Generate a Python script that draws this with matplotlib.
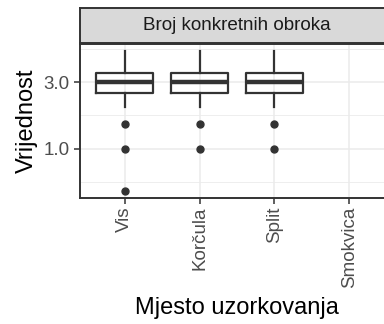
import numpy as np
import matplotlib
matplotlib.use('Agg')
import matplotlib.pyplot as plt
from matplotlib.patches import Rectangle

plt.rcParams['font.family'] = ['Liberation Sans', 'DejaVu Sans']

# boxplot summaries per sampling site (Smokvica has no data)
sites = ['Vis', 'Korčula', 'Split', 'Smokvica']
q1 = [2.5, 2.5, 2.5]
med = [3.0, 3.0, 3.0]
q3 = [3.5, 3.5, 3.5]
whis_lo = [2.0, 2.0, 2.0]
whis_hi = [5.0, 5.0, 5.0]
outliers = [[1.5, 1.0, 0.5], [1.5, 1.0], [1.5, 1.0]]
y_ticks = [1.0, 3.0]
y_tick_labels = ['1.0', '3.0']
facet_title = 'Broj konkretnih obroka'

dark = '#333333'
fig = plt.figure(figsize=(3.84, 3.24), dpi=100)
ax = fig.add_axes([80/384, 1 - 198/324, 314/384, 154/324])

stats = []
for i in range(len(med)):
    stats.append(dict(med=med[i], q1=q1[i], q3=q3[i], whislo=whis_lo[i],
                      whishi=whis_hi[i], fliers=outliers[i], label=sites[i]))
ax.bxp(stats, positions=np.arange(1, len(med) + 1), widths=0.76,
       showcaps=False, zorder=3,
       boxprops=dict(color=dark, linewidth=1.6),
       whiskerprops=dict(color=dark, linewidth=1.6),
       medianprops=dict(color=dark, linewidth=3.2, solid_capstyle='butt'),
       flierprops=dict(marker='o', markerfacecolor=dark, markeredgecolor=dark,
                       markersize=5, linestyle='none'))

ax.set_yscale('log')
lo, hi = np.log10(min(min(o) for o in outliers)), np.log10(max(whis_hi))
pad = (hi - lo) * 0.05
ax.set_ylim(10 ** (lo - pad), 10 ** (hi + pad))
ax.set_xlim(0.4, len(sites) + 0.6)

ax.set_yticks(y_ticks)
ax.set_yticklabels(y_tick_labels)
ax.yaxis.set_minor_locator(matplotlib.ticker.NullLocator())
ax.set_xticks(np.arange(1, len(sites) + 1))
ax.set_xticklabels(sites, rotation=90)

# grid lines: major on ticks, minor halfway in log space
lt = np.log10(y_ticks)
step = lt[1] - lt[0]
minor = [lt[0] - step / 2, lt[0] + step / 2, lt[1] + step / 2]
for m in minor:
    ax.axhline(10 ** m, color='#EBEBEB', linewidth=0.6, zorder=0)
for t in y_ticks:
    ax.axhline(t, color='#EBEBEB', linewidth=1.1, zorder=0)
for x in range(1, len(sites) + 1):
    ax.axvline(x, color='#EBEBEB', linewidth=1.1, zorder=0)

for s in ax.spines.values():
    s.set_color(dark)
    s.set_linewidth(1.4)
ax.tick_params(colors=dark, width=1.1, length=4, labelsize=13.5, labelcolor='#4D4D4D')
ax.tick_params(axis='x', pad=2)

ax.set_ylabel('Vrijednost', fontsize=17, color='black', labelpad=4)
ax.set_xlabel('Mjesto uzorkovanja', fontsize=17, color='black', labelpad=7)

# facet strip above the panel
strip = fig.add_axes([80/384, 1 - 43/324, 314/384, 35/324])
strip.set_xlim(0, 1)
strip.set_ylim(0, 1)
strip.add_patch(Rectangle((0, 0), 1, 1, facecolor='#D9D9D9', edgecolor='none'))
strip.set_xticks([])
strip.set_yticks([])
for s in strip.spines.values():
    s.set_color(dark)
    s.set_linewidth(1.4)
strip.text(0.5, 0.5, facet_title, ha='center', va='center',
           fontsize=13.6, color='#1A1A1A')

fig.savefig('out.png', dpi=100)
